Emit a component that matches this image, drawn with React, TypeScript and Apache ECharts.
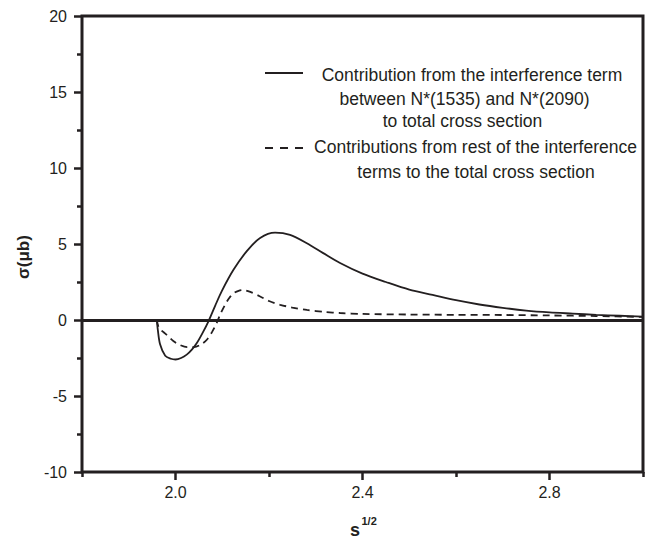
import React, { useEffect, useRef } from "react";
import * as echarts from "echarts";

// Solid curve: interference term between N*(1535) and N*(2090)
const solidX = [1.96, 1.962, 1.967, 1.978, 1.99, 2.0, 2.012, 2.024, 2.035, 2.046, 2.058, 2.071, 2.085, 2.099, 2.124, 2.153, 2.181, 2.213, 2.245, 2.281, 2.316, 2.352, 2.4, 2.45, 2.5, 2.55, 2.6, 2.65, 2.7, 2.75, 2.8, 2.85, 2.9, 2.95, 3.0];
const solidY = [0, -0.6, -1.6, -2.35, -2.55, -2.6, -2.5, -2.28, -1.95, -1.5, -0.85, -0.05, 0.95, 1.9, 3.3, 4.55, 5.4, 5.75, 5.6, 5.05, 4.4, 3.75, 3.05, 2.5, 2.0, 1.65, 1.3, 1.02, 0.8, 0.62, 0.5, 0.42, 0.34, 0.28, 0.22];

// Dashed curve: rest of the interference terms
const dashX = [1.96, 1.963, 1.967, 1.98, 1.996, 2.01, 2.025, 2.04, 2.055, 2.067, 2.078, 2.088, 2.097, 2.106, 2.115, 2.124, 2.135, 2.145, 2.16, 2.181, 2.2, 2.224, 2.25, 2.281, 2.32, 2.352, 2.4, 2.5, 2.6, 2.7, 2.8, 2.9, 3.0];
const dashY = [0, -0.4, -0.6, -0.95, -1.4, -1.65, -1.78, -1.78, -1.6, -1.3, -0.8, -0.2, 0.45, 1.0, 1.45, 1.75, 1.92, 1.97, 1.85, 1.55, 1.25, 1.0, 0.82, 0.66, 0.53, 0.46, 0.4, 0.36, 0.34, 0.33, 0.3, 0.26, 0.2];

const xMajorTicks = [2.0, 2.4, 2.8];
const xMinorTicks = [1.8, 2.2, 2.6, 3.0];
const yMajorTicks = [-10, -5, 0, 5, 10, 15, 20];
const yMinorTicks = [-7.5, -2.5, 2.5, 7.5, 12.5, 17.5];

const legendSolidLines = [
  "Contribution from the interference term",
  "between N*(1535) and N*(2090)",
  "to total cross section",
];
const legendDashLines = [
  "Contributions from rest of the interference",
  "terms to the total cross section",
];

const INK = "#231f20";
const FONT = "Liberation Sans, Arial, sans-serif";

export default function App() {
  const ref = useRef<HTMLDivElement>(null);

  useEffect(() => {
    if (!ref.current) return;
    const chart = echarts.init(ref.current, undefined, { renderer: "svg" });

    const xBase = {
      type: "value",
      min: 1.8,
      max: 3.0,
      position: "bottom",
      axisLine: { show: false, onZero: false },
      splitLine: { show: false },
    };
    const yBase = {
      type: "value",
      min: -10,
      max: 20,
      position: "left",
      axisLine: { show: false, onZero: false },
      splitLine: { show: false },
    };

    const solidData = solidX.map((x, i) => [x, solidY[i]]);
    const dashData = dashX.map((x, i) => [x, dashY[i]]);

    const legendTextStyle = { fill: INK, fontSize: 17.5, fontFamily: FONT };
    const solidCenters = [472, 464.5, 462.5];
    const solidYs = [74.6, 99.2, 121.4];
    const dashCenters = [475.5, 476];
    const dashYs = [146.6, 171.6];

    const graphics: any[] = [
      {
        type: "line",
        shape: { x1: 265, y1: 73, x2: 303, y2: 73 },
        style: { stroke: INK, lineWidth: 1.8 },
      },
      {
        type: "line",
        shape: { x1: 265, y1: 148, x2: 303, y2: 148 },
        style: { stroke: INK, lineWidth: 1.8, lineDash: [8, 7] },
      },
      ...legendSolidLines.map((t, i) => ({
        type: "text",
        x: solidCenters[i],
        y: solidYs[i],
        style: { ...legendTextStyle, text: t, align: "center", verticalAlign: "middle" },
      })),
      ...legendDashLines.map((t, i) => ({
        type: "text",
        x: dashCenters[i],
        y: dashYs[i],
        style: { ...legendTextStyle, text: t, align: "center", verticalAlign: "middle" },
      })),
      {
        type: "text",
        x: 23,
        y: 257,
        rotation: Math.PI / 2,
        style: {
          text: "σ(μb)",
          fill: INK,
          fontSize: 17,
          fontWeight: "bold",
          fontFamily: FONT,
          align: "center",
          verticalAlign: "middle",
        },
      },
      {
        type: "text",
        x: 350,
        y: 529.8,
        style: {
          text: "s",
          fill: INK,
          fontSize: 18,
          fontWeight: "bold",
          fontFamily: FONT,
          align: "left",
          verticalAlign: "middle",
        },
      },
      {
        type: "text",
        x: 361.5,
        y: 521.2,
        style: {
          text: "1/2",
          fill: INK,
          fontSize: 11,
          fontWeight: "bold",
          fontFamily: FONT,
          align: "left",
          verticalAlign: "middle",
        },
      },
    ];

    chart.setOption({
      animation: false,
      backgroundColor: "#ffffff",
      grid: {
        left: 82,
        top: 16,
        width: 561,
        height: 456,
        show: true,
        borderColor: INK,
        borderWidth: 3,
        backgroundColor: "transparent",
      },
      xAxis: [
        {
          ...xBase,
          axisTick: {
            show: true,
            inside: false,
            length: 8,
            customValues: xMajorTicks,
            lineStyle: { color: INK, width: 2.5 },
          },
          axisLabel: {
            show: true,
            customValues: xMajorTicks,
            formatter: (v: number) => v.toFixed(1),
            color: INK,
            fontSize: 16,
            fontFamily: FONT,
            margin: 12,
          },
        },
        {
          ...xBase,
          axisTick: {
            show: true,
            inside: false,
            length: 5,
            customValues: xMinorTicks,
            lineStyle: { color: INK, width: 2.5 },
          },
          axisLabel: { show: false },
        },
      ],
      yAxis: [
        {
          ...yBase,
          axisTick: {
            show: true,
            inside: false,
            length: 8,
            customValues: yMajorTicks,
            lineStyle: { color: INK, width: 2.5 },
          },
          axisLabel: {
            show: true,
            customValues: yMajorTicks,
            color: INK,
            fontSize: 16,
            fontFamily: FONT,
            margin: 15,
          },
        },
        {
          ...yBase,
          axisTick: {
            show: true,
            inside: false,
            length: 5,
            customValues: yMinorTicks,
            lineStyle: { color: INK, width: 2.5 },
          },
          axisLabel: { show: false },
        },
      ],
      series: [
        {
          type: "line",
          name: "interference N*(1535)-N*(2090)",
          data: solidData,
          xAxisIndex: 0,
          yAxisIndex: 0,
          smooth: 0.3,
          showSymbol: false,
          symbol: "none",
          lineStyle: { color: INK, width: 1.8, type: "solid" },
          markLine: {
            silent: true,
            symbol: ["none", "none"],
            label: { show: false },
            lineStyle: { color: INK, width: 2.8, type: "solid" },
            data: [{ yAxis: 0 }],
          },
          z: 3,
        },
        {
          type: "line",
          name: "rest of interference terms",
          data: dashData,
          xAxisIndex: 0,
          yAxisIndex: 0,
          smooth: 0.3,
          showSymbol: false,
          symbol: "none",
          lineStyle: { color: INK, width: 1.8, type: [7, 5] },
          z: 2,
        },
      ],
      graphic: graphics,
    });

    return () => chart.dispose();
  }, []);

  return (
    <div
      ref={ref}
      style={{ position: "fixed", left: 0, top: 0, width: 659, height: 540, background: "#fff" }}
    />
  );
}
